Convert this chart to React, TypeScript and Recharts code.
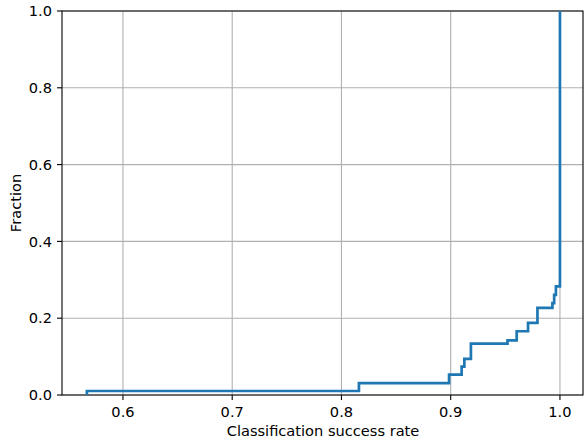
import React from "react";
import { LineChart, Line, XAxis, YAxis, CartesianGrid, ReferenceArea, Label } from "recharts";

// success rate where each step happens, and the cumulative fraction after it
const rates = [0.567, 0.567, 0.816, 0.8985, 0.91, 0.9125, 0.9185, 0.952, 0.9604, 0.9708, 0.9794, 0.9931, 0.9947, 0.9963, 1.0];
const fractions = [0, 0.0104, 0.031, 0.053, 0.074, 0.094, 0.134, 0.142, 0.166, 0.188, 0.227, 0.239, 0.261, 0.283, 1.0];

const xTicks = [0.6, 0.7, 0.8, 0.9, 1.0];
const yTicks = [0, 0.2, 0.4, 0.6, 0.8, 1.0];

const data = rates.map((x, i) => ({ x, y: fractions[i] }));

const FONT = "DejaVu Sans, sans-serif";
const FS = 14.6;
const X_DOMAIN: [number, number] = [0.5442, 1.0211];

const XTick = ({ x, y, payload }: any) => (
  <text x={x} y={y} dy="0.73em" textAnchor="middle" fontFamily={FONT} fontSize={FS} fill="#000">
    {Number(payload.value).toFixed(1)}
  </text>
);

const YTick = ({ x, y, payload }: any) => (
  <text x={x} y={y} dy="0.36em" textAnchor="end" fontFamily={FONT} fontSize={FS} fill="#000">
    {Number(payload.value).toFixed(1)}
  </text>
);

export default function App() {
  return (
    <div style={{ position: "absolute", left: 0, top: 0, width: 584, height: 442, background: "#fff" }}>
      <LineChart width={584} height={442} data={data} margin={{ top: 11, right: 1, left: 0, bottom: 0 }}>
        <CartesianGrid stroke="#b0b0b0" strokeWidth={1.1} horizontalValues={yTicks} verticalValues={xTicks} />
        <XAxis
          dataKey="x"
          type="number"
          domain={X_DOMAIN}
          allowDataOverflow
          ticks={xTicks}
          interval={0}
          height={47}
          tickSize={5}
          tickMargin={6}
          tick={<XTick />}
          stroke="#000"
          tickLine={{ stroke: "#000", strokeWidth: 1.1 }}
          axisLine={false}
        >
          <Label
            content={() => (
              <text x={323} y={435.5} textAnchor="middle" fontFamily={FONT} fontSize={FS} fill="#000">
                Classification success rate
              </text>
            )}
          />
        </XAxis>
        <YAxis
          type="number"
          domain={[0, 1]}
          allowDataOverflow
          ticks={yTicks}
          interval={0}
          width={62}
          tickSize={5}
          tickMargin={5}
          tick={<YTick />}
          stroke="#000"
          tickLine={{ stroke: "#000", strokeWidth: 1.1 }}
          axisLine={false}
        >
          <Label
            content={() => (
              <text x={21} y={203} transform="rotate(-90, 21, 203)" textAnchor="middle" fontFamily={FONT} fontSize={FS} fill="#000">
                Fraction
              </text>
            )}
          />
        </YAxis>
        <Line
          type="stepAfter"
          dataKey="y"
          stroke="#1f77b4"
          strokeWidth={2.7}
          dot={false}
          activeDot={false}
          isAnimationActive={false}
        />
        <ReferenceArea x1={X_DOMAIN[0]} x2={X_DOMAIN[1]} y1={0} y2={1} fill="none" stroke="#000" strokeWidth={1.1} ifOverflow="visible" />
      </LineChart>
    </div>
  );
}
